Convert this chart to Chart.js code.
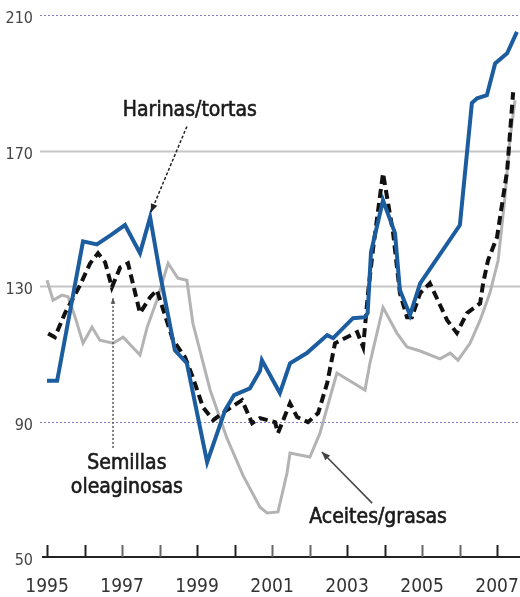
<!DOCTYPE html>
<html><head><meta charset="utf-8">
<script src="https://cdn.jsdelivr.net/npm/chart.js@4/dist/chart.umd.min.js"></script>
<style>html,body{margin:0;padding:0;background:#fff}</style>
</head><body>
<canvas id="c" width="520" height="597"></canvas>
<script>
// Harinas/tortas (blue)
const harinasYears  = [1995.00,1995.27,1995.96,1996.33,1996.70,1997.08,1997.48,1997.75,1998.01,1998.41,1998.73,1999.27,1999.75,1999.99,2000.41,2000.68,2000.73,2001.21,2001.48,2001.93,2002.47,2002.63,2003.16,2003.48,2003.55,2003.64,2003.96,2004.28,2004.41,2004.68,2004.95,2006.01,2006.33,2006.47,2006.73,2006.95,2007.27,2007.53];
const harinasValues = [102,102,143.2,142.3,145,148,139.7,150.3,133.8,111,107.2,78,93.4,97.8,99.8,105,108.1,98.4,107.2,110.2,115.5,114.6,120.5,120.8,122,140,155.3,145.6,128.8,121.4,130.8,148,184,185.4,186.3,195.7,198.7,205];
// Semillas oleaginosas (black dashed)
const semillasYears  = [1995.03,1995.21,1995.48,1995.88,1996.15,1996.36,1996.55,1996.73,1996.95,1997.16,1997.48,1997.75,1997.93,1998.36,1998.68,1998.89,1999.16,1999.43,1999.80,2000.20,2000.47,2000.68,2001.08,2001.16,2001.48,2001.67,2001.96,2002.23,2002.47,2002.68,2003.27,2003.43,2003.56,2003.69,2003.96,2004.23,2004.41,2004.60,2004.73,2004.95,2005.21,2005.67,2005.93,2006.20,2006.55,2006.63,2006.76,2007.00,2007.27,2007.43];
const semillasValues = [116,114.9,122,130.2,136.7,139.7,137,129.6,135.5,136.7,122,126.7,128.8,114,109,103,94.2,90.4,93.4,96.3,89.5,91,89.8,86.6,95.4,91.3,89.8,92.5,101.3,113.1,116.4,112,127.9,140.6,163.3,145.6,127.9,120.8,120.8,127.9,130.8,119.9,116.1,122,124.9,130.8,137.6,144.4,164,187.2];
// Aceites/grasas (grey)
const aceitesYears  = [1995.00,1995.16,1995.40,1995.56,1995.75,1995.96,1996.20,1996.41,1996.76,1997.03,1997.48,1997.67,1997.93,1998.23,1998.49,1998.73,1998.89,1999.35,1999.80,2000.23,2000.68,2000.87,2001.16,2001.40,2001.48,2002.01,2002.28,2002.73,2003.48,2003.61,2003.96,2004.33,2004.60,2004.95,2005.48,2005.75,2005.96,2006.28,2006.55,2006.81,2007.03,2007.20,2007.35,2007.48];
const aceitesValues = [131.7,125.8,127.3,126.8,120.8,113.1,117.8,114,113.1,114.9,109.6,117.8,125.8,136.7,132.3,131.7,119,99.3,85,74,64.7,63,63.3,74.8,80.7,79.5,86.6,104.3,99.3,107.2,123.7,116.1,112,110.8,108.5,110.2,108.1,113.1,119.9,127.9,137.6,155,173.9,184.8];

const yTickValues = [50,90,130,170,210];
const xLabelYears = [1995,1997,1999,2001,2003,2005,2007];
const xTickYears  = [1995,1996,1997,1998,1999,2000,2001,2002,2003,2004,2005,2006,2007];

const toPts = (xs, ys) => xs.map((x, i) => ({x, y: ys[i]}));
const FONT = "'DejaVu Sans Condensed', 'DejaVu Sans', sans-serif";

const decor = {
  id: 'decor',
  beforeDatasetsDraw(chart) {
    const {ctx, chartArea, scales} = chart;
    const xs = scales.x, ys = scales.y;
    ctx.save();
    yTickValues.forEach(v => {
      if (v === 50) return;
      const y = Math.round(ys.getPixelForValue(v)) + 0.5;
      ctx.beginPath();
      if (v === 210 || v === 90) {
        ctx.setLineDash([2, 2]);
        ctx.strokeStyle = '#8080c8';
        ctx.lineWidth = 1;
      } else {
        ctx.setLineDash([]);
        ctx.strokeStyle = '#c6c6c6';
        ctx.lineWidth = 2;
      }
      ctx.moveTo(chartArea.left, y);
      ctx.lineTo(chartArea.right, y);
      ctx.stroke();
    });
    ctx.setLineDash([]);
    const y0 = ys.getPixelForValue(50);
    ctx.strokeStyle = '#222';
    ctx.lineWidth = 2;
    ctx.beginPath();
    ctx.moveTo(chartArea.left + 2, y0);
    ctx.lineTo(chartArea.right, y0);
    ctx.stroke();
    xTickYears.forEach(yr => {
      const x = Math.round(xs.getPixelForValue(yr)) + 0.5;
      const pair = Math.floor((yr - 1995) / 2) % 2;
      ctx.strokeStyle = pair === 1 ? '#666' : '#222';
      ctx.lineWidth = 2;
      ctx.beginPath();
      ctx.moveTo(x, y0);
      ctx.lineTo(x, y0 - 12);
      ctx.stroke();
    });
    ctx.restore();
  },
  afterDatasetsDraw(chart) {
    const {ctx, scales} = chart;
    const X = v => scales.x.getPixelForValue(v), Y = v => scales.y.getPixelForValue(v);
    function arrow(x1, y1, x2, y2, dash, color, w, head) {
      ctx.save();
      ctx.strokeStyle = color; ctx.fillStyle = color; ctx.lineWidth = w;
      ctx.setLineDash(dash);
      ctx.beginPath(); ctx.moveTo(x1, y1); ctx.lineTo(x2, y2); ctx.stroke();
      ctx.setLineDash([]);
      const a = Math.atan2(y2 - y1, x2 - x1);
      ctx.beginPath();
      ctx.moveTo(x2, y2);
      ctx.lineTo(x2 - head * Math.cos(a - 0.4), y2 - head * Math.sin(a - 0.4));
      ctx.lineTo(x2 - head * Math.cos(a + 0.4), y2 - head * Math.sin(a + 0.4));
      ctx.closePath(); ctx.fill();
      ctx.restore();
    }
    ctx.save();
    ctx.font = '21px ' + FONT;
    ctx.fillStyle = '#1a1a1a';
    ctx.strokeStyle = '#1a1a1a';
    ctx.lineWidth = 0.6;
    ctx.textAlign = 'center';
    ctx.textBaseline = 'middle';
    const label = (t, x, y) => { ctx.fillText(t, x, y); ctx.strokeText(t, x, y); };
    label('Harinas/tortas', X(1998.81), Y(181.9));
    label('Semillas', X(1997.13), Y(77.7));
    label('oleaginosas', X(1997.13), Y(70.4));
    label('Aceites/grasas', X(2003.83), Y(61.5));
    ctx.restore();
    arrow(X(1998.73), Y(177.1), X(1997.77), Y(151.8), [3, 2], '#222', 1.5, 9);
    arrow(X(1996.76), Y(82.2), X(1996.76), Y(126.4), [2, 2], '#555', 1.5, 6);
    arrow(X(2003.67), Y(65.9), X(2002.33), Y(81.0), [], '#444', 1.5, 9);
  }
};

new Chart(document.getElementById('c'), {
  type: 'line',
  data: {
    datasets: [
      { label: 'Harinas/tortas', data: toPts(harinasYears, harinasValues), borderColor: '#1c5d9f', borderWidth: 4, pointRadius: 0, tension: 0, fill: false },
      { label: 'Semillas oleaginosas', data: toPts(semillasYears, semillasValues), borderColor: '#111', borderWidth: 4, borderDash: [9, 5], pointRadius: 0, tension: 0, fill: false },
      { label: 'Aceites/grasas', data: toPts(aceitesYears, aceitesValues), borderColor: '#b3b3b3', borderWidth: 3, pointRadius: 0, tension: 0, fill: false }
    ]
  },
  options: {
    responsive: false,
    animation: false,
    devicePixelRatio: 1,
    layout: { padding: { top: 15, right: 0, left: 0, bottom: 0 } },
    plugins: { legend: { display: false }, tooltip: { enabled: false } },
    scales: {
      x: {
        type: 'linear', min: 1994.813, max: 2007.613,
        afterBuildTicks: s => { s.ticks = xLabelYears.map(v => ({value: v})); },
        afterFit: s => { s.height = 40; s.paddingLeft = 0; s.paddingRight = 0; },
        grid: { display: false, drawTicks: false },
        border: { display: false },
        ticks: { font: { family: FONT, size: 19 }, color: '#333', padding: 19, maxRotation: 0, autoSkip: false, callback: v => String(v) }
      },
      y: {
        min: 50, max: 210,
        afterBuildTicks: s => { s.ticks = yTickValues.map(v => ({value: v})); },
        afterFit: s => { s.width = 40; s.paddingTop = 0; s.paddingBottom = 0; },
        grid: { display: false, drawTicks: false },
        border: { display: false },
        ticks: { font: { family: FONT, size: 16 }, color: '#444', padding: 7, labelOffset: 4 }
      }
    }
  },
  plugins: [decor]
});
</script>
</body></html>
